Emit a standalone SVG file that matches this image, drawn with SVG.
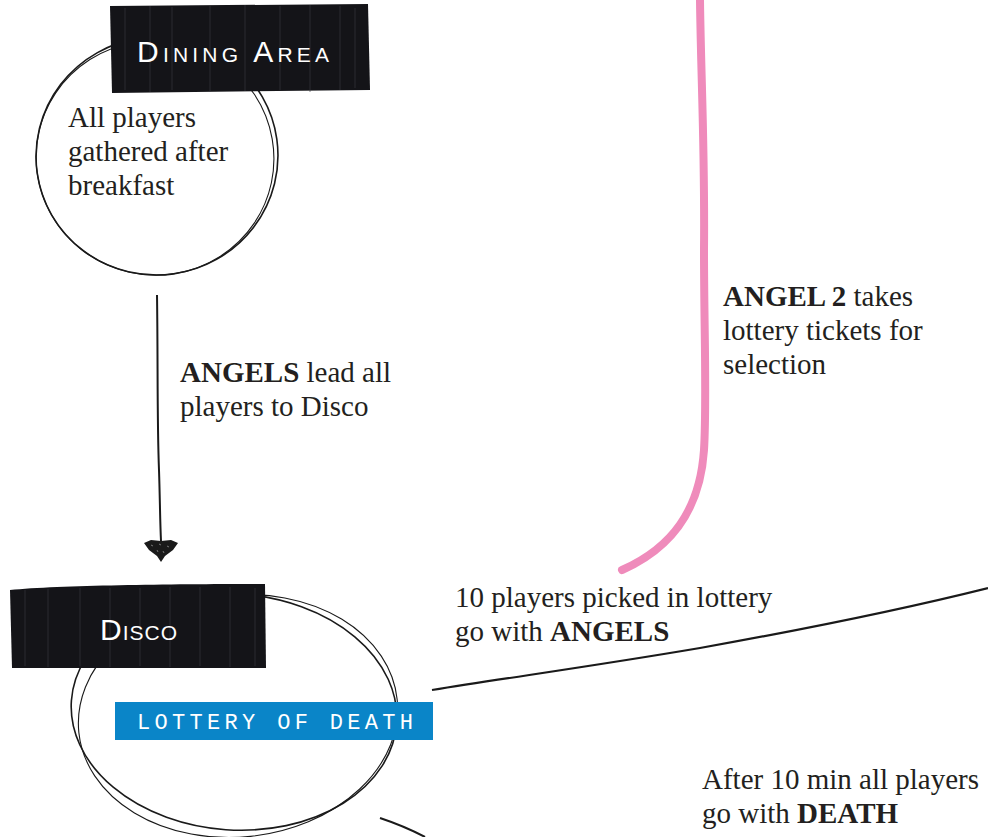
<svg xmlns="http://www.w3.org/2000/svg" width="988" height="837" viewBox="0 0 988 837">
<style>
.body{font-family:"Liberation Serif","Times New Roman",serif;font-size:29px;fill:#231f20}
.b{font-weight:bold}
.tapeText{font-family:"Liberation Sans",Arial,sans-serif;font-variant:small-caps;fill:#fff;font-size:30px;letter-spacing:1px}
.label{font-family:"Liberation Mono","Courier New",monospace;fill:#fff;font-size:22px}
.sk{fill:none;stroke:#1a1a1a;stroke-width:1.6}
.sk2{fill:none;stroke:#1a1a1a;stroke-width:1.1}
.tape{fill:#141418}
.streak{stroke:#3a3a40;stroke-width:1;opacity:.6}
</style>
<defs>
<marker id="arrow" viewBox="0 0 36 24" refX="18" refY="2" markerWidth="36" markerHeight="24" markerUnits="userSpaceOnUse" orient="0">
<path d="M1,4 L8,1 L18,2 L28,1 L35,4 L30,11 L22,17 L18,23 L14,17 L6,11 Z" fill="#1a1a1a"/>
<path d="M8,6 L10,7 M16,5 L18,6 M24,7 L26,8 M14,11 L15,13 M20,12 L21,14" stroke="#777" stroke-width="1"/>
</marker>
</defs>
<rect width="988" height="837" fill="#fff"/>

<g id="connectors">
<path d="M157,295 C158,360 157,420 159,470 C160,500 160,520 161,541" fill="none" stroke="#1a1a1a" stroke-width="2" marker-end="url(#arrow)"/>
<path d="M700,0 C701,80 705,150 704,250 C704,330 707,400 704,450 C700,510 672,548 622,570" fill="none" stroke="#ef8bbb" stroke-width="8" stroke-linecap="round"/>
<path d="M432,690 C520,676 600,665 700,648 C800,630 900,610 988,588" fill="none" stroke="#1a1a1a" stroke-width="2.2"/>
<path d="M380,818 C395,823 410,829 425,837" fill="none" stroke="#1a1a1a" stroke-width="2"/>
</g>

<g id="dining-area">
<ellipse class="sk" cx="157" cy="156" rx="121" ry="119" transform="rotate(-8 157 156)"/>
<ellipse class="sk2" cx="155" cy="158" rx="119" ry="117" transform="rotate(12 155 158)"/>
<path d="M110,6 L368,4 L370,90 L112,93 Z" class="tape"/>
<path d="M125,8 V90 M150,6 V92 M172,7 V90 M210,6 V92 M245,5 V91 M280,6 V90 M310,5 V92 M340,6 V90 M355,8 V88" class="streak"/>
<text x="137" y="62" class="tapeText" textLength="193">Dining Area</text>
<text class="body" x="68" y="127">All players</text>
<text class="body" x="68" y="161">gathered after</text>
<text class="body" x="68" y="195">breakfast</text>
</g>

<g id="edge-label-angels">
<text class="body" x="180" y="382"><tspan class="b">ANGELS</tspan> lead all</text>
<text class="body" x="180" y="416">players to Disco</text>
</g>

<g id="angel2-label">
<text class="body" x="723" y="306"><tspan class="b">ANGEL 2</tspan> takes</text>
<text class="body" x="723" y="340">lottery tickets for</text>
<text class="body" x="723" y="374">selection</text>
</g>

<g id="disco">
<ellipse class="sk" cx="234" cy="712" rx="163" ry="118" transform="rotate(4 234 712)"/>
<ellipse class="sk2" cx="238" cy="716" rx="160" ry="121" transform="rotate(-6 238 716)"/>
<path d="M10,590 C60,585 180,584 265,584 L266,668 L12,668 Z" class="tape"/>
<path d="M25,590 V666 M48,589 V667 M80,588 V666 M110,588 V667 M140,588 V666 M170,587 V667 M200,587 V666 M230,587 V667 M255,588 V666" class="streak"/>
<text x="100" y="640" class="tapeText" textLength="78">Disco</text>
<rect x="115" y="702" width="318" height="38" fill="#0a85c8"/>
<text x="137" y="729" class="label" textLength="276">LOTTERY OF DEATH</text>
</g>

<g id="angels-label">
<text class="body" x="455" y="607">10 players picked in lottery</text>
<text class="body" x="455" y="641">go with <tspan class="b">ANGELS</tspan></text>
</g>

<g id="death-label">
<text class="body" x="702" y="789">After 10 min all players</text>
<text class="body" x="702" y="823">go with <tspan class="b">DEATH</tspan></text>
</g>
</svg>
